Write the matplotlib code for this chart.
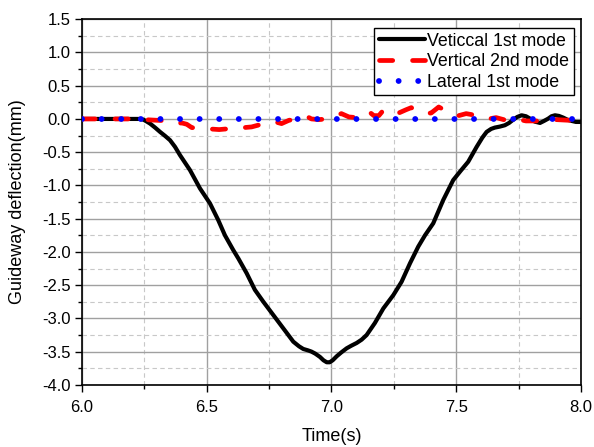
import numpy as np
import matplotlib
matplotlib.use("Agg")
import matplotlib.pyplot as plt
from matplotlib.ticker import MultipleLocator

plt.rcParams['font.family'] = ['Liberation Sans', 'DejaVu Sans']

# Vertical 1st mode (black solid)
t_v1 = [6.0, 6.1, 6.2, 6.23, 6.246, 6.26, 6.273, 6.293, 6.313, 6.333, 6.353,
        6.373, 6.393, 6.433, 6.473, 6.513, 6.546, 6.573, 6.606, 6.627, 6.66,
        6.693, 6.727, 6.767, 6.807, 6.847, 6.87, 6.887, 6.905, 6.92, 6.935,
        6.954, 6.968, 6.981, 6.993, 7.005, 7.021, 7.04, 7.061, 7.08, 7.101,
        7.121, 7.141, 7.174, 7.208, 7.248, 7.281, 7.315, 7.348, 7.375, 7.408,
        7.448, 7.488, 7.518, 7.548, 7.582, 7.605, 7.622, 7.64, 7.655, 7.675,
        7.695, 7.712, 7.729, 7.745, 7.762, 7.78, 7.796, 7.815, 7.836, 7.852,
        7.869, 7.882, 7.896, 7.912, 7.929, 7.945, 7.963, 7.98, 8.0]
y_v1 = [0.0, 0.0, 0.0, 0.0, -0.01, -0.04, -0.07, -0.13, -0.195, -0.255, -0.32,
        -0.42, -0.545, -0.77, -1.045, -1.27, -1.52, -1.75, -1.97, -2.1, -2.32,
        -2.57, -2.75, -2.95, -3.15, -3.35, -3.42, -3.46, -3.48, -3.5, -3.53,
        -3.58, -3.63, -3.66, -3.66, -3.63, -3.57, -3.51, -3.45, -3.41, -3.37,
        -3.32, -3.25, -3.07, -2.85, -2.65, -2.45, -2.17, -1.92, -1.75, -1.57,
        -1.22, -0.92, -0.78, -0.645, -0.42, -0.28, -0.195, -0.15, -0.13, -0.115,
        -0.095, -0.06, -0.01, 0.03, 0.055, 0.04, 0.005, -0.04, -0.06, -0.03,
        0.005, 0.04, 0.055, 0.045, 0.02, -0.01, -0.03, -0.045, -0.045]

# Vertical 2nd mode (red dashed)
t_v2 = [6.0, 6.2, 6.25, 6.3, 6.35, 6.38, 6.40, 6.42, 6.44, 6.47, 6.51, 6.55,
        6.58, 6.62, 6.65, 6.68, 6.71, 6.74, 6.77, 6.80, 6.83, 6.87, 6.90, 6.92,
        6.95, 6.98, 7.01, 7.04, 7.07, 7.10, 7.13, 7.15, 7.17, 7.19, 7.21, 7.23,
        7.25, 7.27, 7.30, 7.32, 7.35, 7.38, 7.40, 7.43, 7.46, 7.48, 7.51, 7.54,
        7.57, 7.60, 7.63, 7.66, 7.70, 7.74, 7.78, 7.82, 7.86, 7.90, 7.95, 8.0]
y_v2 = [0.0, 0.0, -0.01, -0.02, -0.03, -0.07, -0.06, -0.08, -0.13, -0.14, -0.15,
        -0.16, -0.15, -0.14, -0.13, -0.12, -0.09, -0.07, -0.04, -0.07, -0.02,
        0.0, 0.04, 0.0, -0.01, 0.0, 0.04, 0.08, 0.03, 0.02, 0.08, 0.11, 0.05,
        0.05, 0.14, 0.10, 0.11, 0.09, 0.14, 0.17, 0.10, 0.08, 0.09, 0.18, 0.12,
        0.07, 0.05, 0.08, 0.06, 0.02, 0.0, 0.02, -0.02, 0.0, -0.03, -0.03,
        -0.02, -0.01, -0.02, -0.02]

# Lateral 1st mode (blue dotted)
t_l1 = [6.0, 6.5, 6.9, 7.2, 7.5, 8.0]
y_l1 = [0.0, 0.0, 0.0, 0.0, 0.0, 0.0]

fig = plt.figure(figsize=(5.94, 4.47), dpi=100)
ax = fig.add_axes([0.138, 0.139, 0.840, 0.818])

ax.plot(t_v1, y_v1, color='black', lw=3, solid_capstyle='round',
        solid_joinstyle='round', label='Veticcal 1st mode', zorder=3)
ax.plot(t_v2, y_v2, color='red', lw=3.4, dashes=(2.8, 4.2),
        dash_capstyle='round', dash_joinstyle='round',
        label='Vertical 2nd mode', zorder=4)
ax.plot(t_l1, y_l1, color='blue', lw=4.2, dashes=(0.01, 3.35),
        dash_capstyle='round', label='Lateral 1st mode', zorder=5)

ax.set_xlim(6.0, 8.0)
ax.set_ylim(-4.0, 1.5)
ax.xaxis.set_major_locator(MultipleLocator(0.5))
ax.xaxis.set_minor_locator(MultipleLocator(0.25))
ax.yaxis.set_major_locator(MultipleLocator(0.5))
ax.yaxis.set_minor_locator(MultipleLocator(0.25))
ax.xaxis.set_major_formatter(plt.FormatStrFormatter('%.1f'))
ax.yaxis.set_major_formatter(plt.FormatStrFormatter('%.1f'))

ax.grid(which='major', color='#a0a0a0', lw=1.0, ls='-')
ax.grid(which='minor', color='#c8c8c8', lw=0.8, ls=(0, (4, 3)))
ax.set_axisbelow(True)

ax.tick_params(which='major', direction='out', length=5, width=1,
               labelsize=12, pad=3)
ax.tick_params(axis='x', which='major', pad=6)
ax.tick_params(which='minor', direction='out', length=3, width=1)
for s in ax.spines.values():
    s.set_linewidth(1.2)

ax.set_xlabel('Time(s)', fontsize=13, labelpad=9)
ax.set_ylabel('Guideway deflection(mm)', fontsize=13, labelpad=12)

leg = ax.legend(loc='upper right', bbox_to_anchor=(0.993, 0.985), fontsize=12.8,
                frameon=True, fancybox=False, framealpha=1, edgecolor='black',
                handlelength=2.6, handletextpad=0.15, labelspacing=0.2,
                borderpad=0.25, borderaxespad=0.2)
leg.get_frame().set_linewidth(1.0)

fig.savefig('out.png', dpi=100)
